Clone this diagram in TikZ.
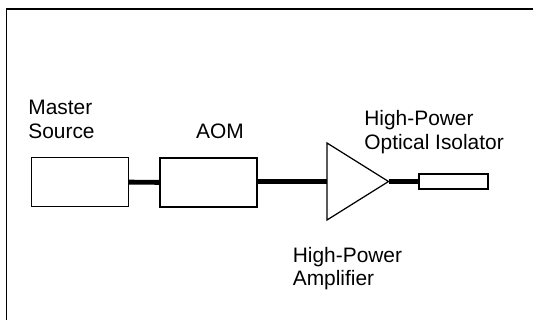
\documentclass[tikz,border=0pt]{standalone}
\usepackage{fontspec}
\setmainfont{Liberation Sans}
\usetikzlibrary{shapes.geometric}

\begin{document}
\begin{tikzpicture}[
    x=0.02cm, y=-0.02cm,
    block/.style={rectangle, draw, line width=0.7pt, inner sep=0pt, minimum width=1.94cm, minimum height=0.98cm},
    label/.style={align=left, inner sep=0pt, font=\fontsize{11.9}{13.6}\selectfont},
    fiber/.style={line width=2.8pt}
]

% Canvas and frame
\useasboundingbox (0,0) rectangle (533,320);
\draw[line width=1.1pt] (533,9) -- (6.5,9) -- (6.5,320);

% Components (all on the same line y=181.5)
\node[block] (master) at (80,182) {};
\node[block] (aom) at (208.5,182.5) {};
\coordinate (ampin) at (327,181.5);
\coordinate (ampout) at (388.5,181.5);
\draw[line width=0.7pt] (327,143) -- (ampout) -- (327,220) -- cycle;
\node[block, minimum width=1.38cm, minimum height=0.3cm] (iso) at (453.5,181.5) {};

% Fiber connections
\draw[fiber] (master) -- (aom);
\draw[fiber] (aom.east |- ampin) -- (ampin);
\draw[fiber] (ampout) -- (iso.west |- ampout);

% Labels
\node[label, anchor=north west] (masterlabel) at (28,100) {Master\\Source};
\node[label, anchor=north] (aomlabel) at (220,124) {AOM};
\node[label, anchor=north west] (isolabel) at (364,110.5) {High-Power\\Optical Isolator};
\node[label, anchor=north west] (amplabel) at (292.5,246.6) {High-Power\\Amplifier};

\end{tikzpicture}
\end{document}
